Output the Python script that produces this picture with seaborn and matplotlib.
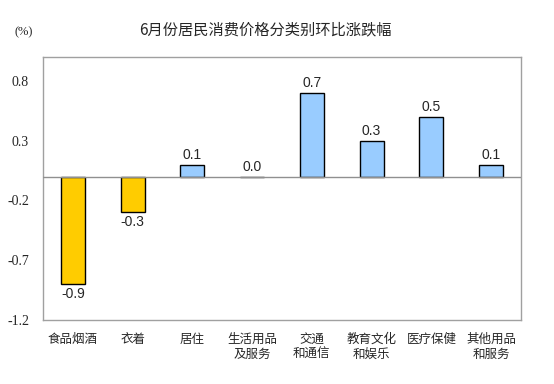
import seaborn as sns
import matplotlib.pyplot as plt
import pandas as pd

categories = ["食品烟酒", "衣着", "居住", "生活用品\n及服务", "交通\n和通信",
              "教育文化\n和娱乐", "医疗保健", "其他用品\n和服务"]
values = [-0.9, -0.3, 0.1, 0.0, 0.7, 0.3, 0.5, 0.1]
yticks = [0.8, 0.3, -0.2, -0.7, -1.2]

df = pd.DataFrame({"cat": categories, "val": values})

sns.set_theme(style="white")
plt.rcParams['font.family'] = ['Noto Sans CJK SC', 'DejaVu Sans']
serif = ["Liberation Serif", "DejaVu Serif"]

fig = plt.figure(figsize=(5.54, 3.84), dpi=100)
ax = fig.add_axes([43 / 554, 1 - 320 / 384, 478 / 554, 263 / 384])

palette = ["#FFCC00" if v < 0 else "#99CCFF" for v in values]
sns.barplot(data=df, x="cat", y="val", hue="cat", palette=palette, legend=False,
            width=0.4, edgecolor="black", linewidth=1.0, saturation=1, ax=ax)

ax.set_ylim(-1.2, 1.0)
ax.set_xlim(-0.5, len(categories) - 0.5)
ax.set_yticks(yticks)
ax.set_yticklabels([f"{t:.1f}" for t in yticks], fontdict={"family": serif, "size": 10})
ax.tick_params(axis="y", length=0, pad=10)
ax.set_xticks(range(len(categories)))
ax.set_xticklabels(categories, fontsize=9, linespacing=1.2)
ax.tick_params(axis="x", length=0, pad=9)
ax.set_xlabel("")
ax.set_ylabel("")
ax.axhline(0, color="#909090", linewidth=1.0, zorder=5)
for s in ax.spines.values():
    s.set_color("#A0A0A0")
    s.set_linewidth(1.0)

for i, v in enumerate(values):
    if v < 0:
        ax.text(i, v - 0.02, f"{v:.1f}", ha="center", va="top",
                family="Liberation Sans", fontsize=10)
    else:
        ax.text(i, v + 0.02, f"{v:.1f}", ha="center", va="bottom",
                family="Liberation Sans", fontsize=10)

fig.text(265 / 554, 1 - 30 / 384, "6月份居民消费价格分类别环比涨跌幅",
         ha="center", va="center", fontsize=11)
fig.text(24 / 554, 1 - 32 / 384, "(%)", ha="center", va="center",
         family=serif, fontsize=9)

fig.savefig("out.png", dpi=100)
